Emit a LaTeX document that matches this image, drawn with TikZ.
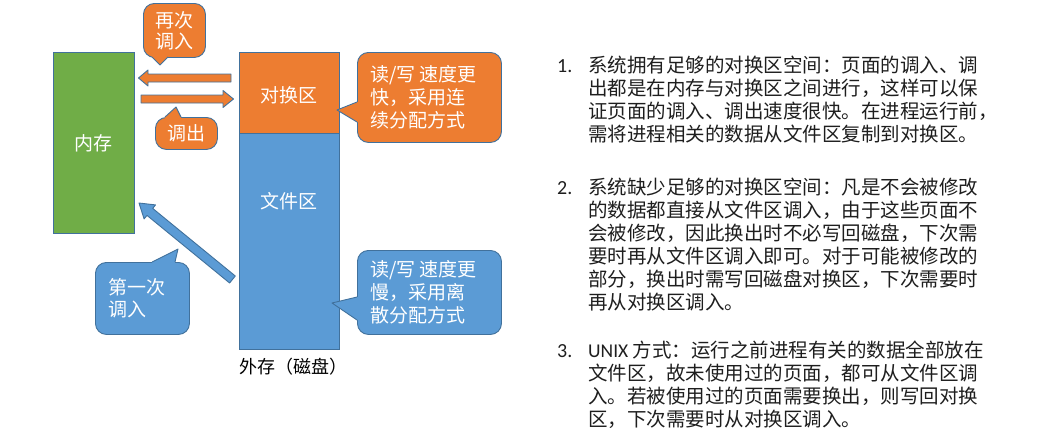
\documentclass[tikz,border=0pt]{standalone}
\usepackage{fontspec}
\setmainfont{Carlito}
\newfontfamily\cjk{Noto Sans CJK SC}
\definecolor{morange}{HTML}{ED7D31}
\definecolor{mblue}{HTML}{5B9BD5}
\definecolor{mgreen}{HTML}{70AD47}
\definecolor{medge}{HTML}{41719C}
\definecolor{mtext}{HTML}{1E1E1E}
\begin{document}
\begin{tikzpicture}[x=1pt,y=-1pt,
  box/.style={draw=medge, line width=0.9pt, inner sep=0pt, anchor=north west,
    text=white, font=\cjk\fontsize{19}{23}\selectfont},
  bubble/.style={box, rounded corners=11pt, align=left, inner xsep=13pt},
  lbl/.style={text=white, font=\cjk\fontsize{19}{23}\selectfont, inner sep=0pt},
  edgeline/.style={draw=medge, line width=0.9pt, line join=round},
  listtext/.style={text=mtext, font=\cjk\fontsize{19.5}{23}\selectfont, inner sep=0pt, anchor=base west},
  listnum/.style={text=mtext, font=\fontsize{20}{23}\selectfont, inner sep=0pt, anchor=base west}
]
\useasboundingbox (0,0) rectangle (1054,434);

% memory
\node[box, fill=mgreen, minimum width=81pt, minimum height=181pt] (mem) at (53,52) {内存};
% swap area and file area
\node[box, fill=morange, minimum width=100pt, minimum height=81pt] (swap) at (239,52) {};
\node[lbl] (swaplbl) at (289,95) {对换区};
\node[box, fill=mblue, minimum width=100pt, minimum height=216pt] (file) at (239,133) {};
\node[lbl] (filelbl) at (289,201) {文件区};
\node[text=black, font=\cjk\fontsize{18}{22}\selectfont, inner sep=0pt] (disk) at (293,367) {外存（磁盘）};

% block arrows
\filldraw[fill=morange, edgeline] (231,74) -- (148,74) -- (148,70) -- (138.5,78) -- (148,86) -- (148,82) -- (231,82) -- cycle;
\filldraw[fill=morange, edgeline] (141,95) -- (223,95) -- (223,90.5) -- (233.5,99) -- (223,107.5) -- (223,103) -- (141,103) -- cycle;
\filldraw[fill=mblue, edgeline] (235.3,276.0) -- (152.7,208.4) -- (155.5,204.9) -- (139,203) -- (144.1,218.9) -- (147.0,215.4) -- (229.6,283.0) -- cycle;

% callout: 再次调入
\node[bubble, fill=morange, minimum width=62pt, minimum height=54pt, align=center, inner xsep=0pt, font=\cjk\fontsize{19}{21}\selectfont] (again) at (143,3) {再次\\调入};
\fill[morange] (152,55) -- (152,57) -- (160,65) -- (168,57) -- (168,55) -- cycle;
\draw[edgeline] (152,57) -- (160,65) -- (168,57);

% callout: 调出
\node[bubble, fill=morange, minimum width=62pt, minimum height=32pt, align=center, inner xsep=0pt] (out) at (155,117) {调出};
\fill[morange] (165,119) -- (165,117) -- (176,107) -- (181,117) -- (181,119) -- cycle;
\draw[edgeline] (165,117) -- (176,107) -- (181,117);

% callout: orange right
\node[bubble, fill=morange, text width=118pt, minimum height=90pt] (fast) at (357,52) {读/写\hspace{4pt}速度更\\快，采用连\\续分配方式};
\fill[morange] (359,102) -- (357,102) -- (337,110) -- (357,122) -- (359,122) -- cycle;
\draw[edgeline] (357,102) -- (337,110) -- (357,122);

% callout: blue right
\node[bubble, fill=mblue, text width=118pt, minimum height=84pt] (slow) at (357,250) {读/写\hspace{4pt}速度更\\慢，采用离\\散分配方式};
\fill[mblue] (359,297) -- (357,297) -- (332,303) -- (357,320) -- (359,320) -- cycle;
\draw[edgeline] (357,297) -- (332,303) -- (357,320);

% callout: 第一次调入
\node[bubble, fill=mblue, text width=68pt, minimum width=94pt, minimum height=72pt, font=\cjk\fontsize{19}{22}\selectfont] (first) at (95,262) {第一次\\调入};
\fill[mblue] (152,264) -- (152,262) -- (178,249) -- (175,262) -- (175,264) -- cycle;
\draw[edgeline] (152,262) -- (178,249) -- (175,262);

% right-hand list
\node[listnum] (n1) at (557,72.5) {1.};
\node[listnum] (n2) at (557,194.5) {2.};
\node[listnum] (n3) at (557,357.5) {3.};
\foreach \yy/\txt [count=\i] in {
  65/系统拥有足够的对换区空间：页面的调入、调,
  88/出都是在内存与对换区之间进行，这样可以保,
  111/证页面的调入、调出速度很快。在进程运行前，,
  134/需将进程相关的数据从文件区复制到对换区。,
  187/系统缺少足够的对换区空间：凡是不会被修改,
  210/的数据都直接从文件区调入，由于这些页面不,
  233/会被修改，因此换出时不必写回磁盘，下次需,
  256/要时再从文件区调入即可。对于可能被修改的,
  279/部分，换出时需写回磁盘对换区，下次需要时,
  302/再从对换区调入。,
  373/文件区，故未使用过的页面，都可从文件区调,
  396/入。若被使用过的页面需要换出，则写回对换,
  419/区，下次需要时从对换区调入。}
  \node[listtext] (line\i) at (588,\yy+7.5) {\txt};
\node[listtext] (line0) at (588,357.5) {{\fontspec{Carlito}UNIX} 方式：运行之前进程有关的数据全部放在};
\end{tikzpicture}
\end{document}
